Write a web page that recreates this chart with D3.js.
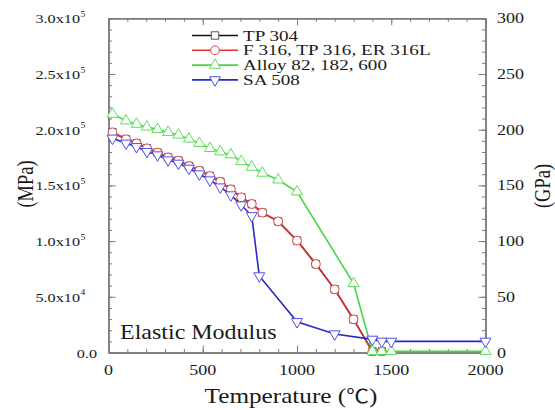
<!DOCTYPE html>
<html lang="en">
  <head>
    <meta charset="UTF-8" />
    <title>Elastic Modulus</title>
    <style>
      body { margin: 0; background: #fff; }
    </style>
  </head>
  <body>
    <svg id="svg" width="555" height="410"></svg>

    <script src="https://d3js.org/d3.v7.min.js"></script>
    <script>
      // temperatures (C) and moduli (MPa)
      const tp304T = [21, 93, 149, 204, 260, 316, 371, 427, 482, 538, 593, 649, 704, 760, 816, 900, 1000, 1100, 1200, 1300, 1400, 1450];
      const tp304E = [197700, 191400, 187800, 183300, 179400, 175200, 172200, 167400, 163200, 158400, 153300, 146500, 139300, 133300, 125500, 117700, 100500, 79400, 56700, 29800, 1000, 1000];

      const f316T = [21, 93, 149, 204, 260, 316, 371, 427, 482, 538, 593, 649, 704, 760, 816, 900, 1000, 1100, 1200, 1300, 1400, 1450];
      const f316E = [197700, 191400, 187800, 183300, 179400, 175200, 172200, 167400, 163200, 158400, 153300, 146500, 139300, 133300, 125500, 117700, 100500, 79400, 56700, 29800, 1000, 1000];

      const alloyT = [21, 93, 149, 204, 260, 316, 371, 427, 482, 538, 593, 649, 704, 760, 816, 900, 1000, 1300, 1400, 1450, 1500, 2000];
      const alloyE = [214000, 208000, 205000, 202500, 200300, 197700, 195300, 191700, 187800, 183300, 180300, 177600, 171500, 166500, 161100, 155000, 144300, 62000, 1000, 1000, 1000, 1000];

      const sa508T = [21, 93, 149, 204, 260, 316, 371, 427, 482, 538, 593, 649, 704, 760, 800, 1000, 1200, 1400, 1450, 1500, 2000];
      const sa508E = [192300, 187800, 184700, 180300, 177300, 172800, 169800, 165300, 160200, 154800, 148500, 141400, 132400, 122700, 68700, 27600, 16600, 11800, 10000, 10000, 10000];

      const seriesNames = ["TP 304", " F 316, TP 316, ER 316L", "Alloy 82, 182, 600", "SA 508"];

      const xTicks = [0, 500, 1000, 1500, 2000];
      const leftTicks = [0, 50000, 100000, 150000, 200000, 250000, 300000];
      const leftTickLabels = [["0.0", ""], ["5.0x10", "4"], ["1.0x10", "5"], ["1.5x10", "5"], ["2.0x10", "5"], ["2.5x10", "5"], ["3.0x10", "5"]];
      const rightTicks = [0, 50, 100, 150, 200, 250, 300];

      const svg = d3.select("#svg");
      const plotL = 108.5, plotR = 485.5, plotT = 18.3, plotB = 352.5;
      const axisColor = "#7a7a7a";
      const serif = "'Liberation Serif', 'Times New Roman', Times, serif";
      const stretch = 1.2; // the picture's lettering is a bit wide

      const xScale = d3.scaleLinear().domain([0, 2000]).range([plotL, plotR]);
      const yScale = d3.scaleLinear().domain([0, 300000]).range([plotB, plotT]);
      const gScale = d3.scaleLinear().domain([0, 300]).range([plotB, plotT]);

      function label(x, y, str, size, anchor, sx) {
        return svg.append("text")
          .attr("transform", `translate(${x},${y}) scale(${sx || stretch},1)`)
          .attr("text-anchor", anchor || "start")
          .attr("font-family", serif)
          .attr("font-size", size)
          .attr("fill", "#1a1a1a")
          .text(str);
      }

      // axes, ticks pointing inward
      function styleAxis(g) {
        g.select(".domain").attr("stroke", axisColor).attr("stroke-width", 1.4);
        g.selectAll(".tick line").attr("stroke", axisColor).attr("stroke-width", 1);
        g.selectAll(".tick text").remove();
      }
      const xMinor = d3.range(0, 2001, 100);
      const yMinor = d3.range(0, 300001, 10000);
      const gMinor = d3.range(0, 301, 10);

      svg.append("g").attr("transform", `translate(0,${plotB})`)
        .call(d3.axisBottom(xScale).tickValues(xMinor).tickSizeInner(-3.5).tickSizeOuter(0)).call(styleAxis);
      svg.append("g").attr("transform", `translate(0,${plotB})`)
        .call(d3.axisBottom(xScale).tickValues(xTicks).tickSizeInner(-7).tickSizeOuter(0)).call(styleAxis);
      svg.append("g").attr("transform", `translate(0,${plotT})`)
        .call(d3.axisTop(xScale).tickValues(xMinor).tickSizeInner(-3.5).tickSizeOuter(0)).call(styleAxis);
      svg.append("g").attr("transform", `translate(0,${plotT})`)
        .call(d3.axisTop(xScale).tickValues(xTicks).tickSizeInner(-7).tickSizeOuter(0)).call(styleAxis);
      svg.append("g").attr("transform", `translate(${plotL},0)`)
        .call(d3.axisLeft(yScale).tickValues(yMinor).tickSizeInner(-3.5).tickSizeOuter(0)).call(styleAxis);
      svg.append("g").attr("transform", `translate(${plotL},0)`)
        .call(d3.axisLeft(yScale).tickValues(leftTicks).tickSizeInner(-7).tickSizeOuter(0)).call(styleAxis);
      svg.append("g").attr("transform", `translate(${plotR},0)`)
        .call(d3.axisRight(gScale).tickValues(gMinor).tickSizeInner(-3.5).tickSizeOuter(0)).call(styleAxis);
      svg.append("g").attr("transform", `translate(${plotR},0)`)
        .call(d3.axisRight(gScale).tickValues(rightTicks).tickSizeInner(-7).tickSizeOuter(0)).call(styleAxis);

      // tick labels
      xTicks.forEach((v) => label(xScale(v), 375, String(v), 15, "middle"));
      rightTicks.forEach((v) => label(497, gScale(v) + 5, String(v), 15, "start"));
      leftTicks.forEach((v, i) => {
        const [base, sup] = leftTickLabels[i];
        if (sup === "") {
          label(97, yScale(v) + 5, base, 13.5, "end");
        } else {
          label(80, yScale(v) + 5, base, 13.5, "end");
          label(80.5, yScale(v) - 1.5, sup, 8, "start");
        }
      });

      // axis titles
      const xTitle = label(291, 403, "Temperature (", 21, "middle");
      xTitle.append("tspan").attr("font-family", "'Noto Sans CJK SC', sans-serif").attr("font-size", 19).text("\u2103");
      xTitle.append("tspan").text(")");
      svg.append("text")
        .attr("transform", `translate(33,184) rotate(-90) scale(1,${stretch})`)
        .attr("text-anchor", "middle").attr("font-family", serif).attr("font-size", 18.5)
        .attr("fill", "#1a1a1a").text("(MPa)");
      svg.append("text")
        .attr("transform", `translate(550,186) rotate(-90) scale(1,${stretch})`)
        .attr("text-anchor", "middle").attr("font-family", serif).attr("font-size", 18.5)
        .attr("fill", "#1a1a1a").text("(GPa)");

      label(120, 339, "Elastic Modulus", 20, "start");

      // series
      const series = [
        { name: seriesNames[0], T: tp304T, E: tp304E, line: "#111111", mark: "#555555", shape: d3.symbolSquare, size: 55, rot: 0 },
        { name: seriesNames[1], T: f316T, E: f316E, line: "#e03434", mark: "#e04545", shape: d3.symbolCircle, size: 60, rot: 0 },
        { name: seriesNames[2], T: alloyT, E: alloyE, line: "#44d844", mark: "#5ede5e", shape: d3.symbolTriangle, size: 52, rot: 0 },
        { name: seriesNames[3], T: sa508T, E: sa508E, line: "#2929c4", mark: "#5050e6", shape: d3.symbolTriangle, size: 52, rot: 180 },
      ];

      const line = d3.line().x((d) => xScale(d[0])).y((d) => yScale(d[1]));

      series.forEach((s) => {
        const pts = s.T.map((t, i) => [t, s.E[i]]);
        svg.append("path").datum(pts)
          .attr("d", line).attr("fill", "none")
          .attr("stroke", s.line).attr("stroke-width", 1.6);
        svg.append("g").selectAll("path").data(pts).enter().append("path")
          .attr("d", d3.symbol().type(s.shape).size(s.size))
          .attr("transform", (d) => `translate(${xScale(d[0])},${yScale(d[1])}) rotate(${s.rot})`)
          .attr("fill", "#fff").attr("stroke", s.mark).attr("stroke-width", 1);
      });

      // legend
      const legendY = [35.5, 50.3, 65.1, 79.9];
      series.forEach((s, i) => {
        const y = legendY[i];
        svg.append("line").attr("x1", 192).attr("x2", 238).attr("y1", y).attr("y2", y)
          .attr("stroke", s.line).attr("stroke-width", 1.6);
        svg.append("path")
          .attr("d", d3.symbol().type(s.shape).size(s.size))
          .attr("transform", `translate(215,${y}) rotate(${s.rot})`)
          .attr("fill", "#fff").attr("stroke", s.mark).attr("stroke-width", 1);
        label(243, y + 5, s.name, 14.5, "start", 1.32);
      });
    </script>
  </body>
</html>
